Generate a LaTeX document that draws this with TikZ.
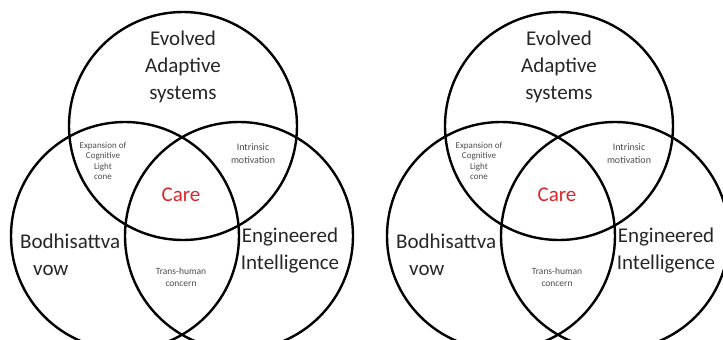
\documentclass[tikz,border=0pt]{standalone}
\usepackage{fontspec}
\setmainfont{Carlito}

\definecolor{carered}{RGB}{218,38,44}

\tikzset{
  set/.style = {draw, circle, line width=2.4pt, minimum size=228pt, inner sep=0pt},
  big/.style = {font=\fontsize{21}{27}\selectfont, text=black!85, align=center, inner sep=0pt},
  small/.style = {font=\fontsize{9}{10.5}\selectfont, text=black!70, align=center, inner sep=0pt},
}

\begin{document}
\begin{tikzpicture}[x=1pt, y=1pt]
  \useasboundingbox (0,0) rectangle (723,340);
  \clip (0,0) rectangle (723,340);
  % the same three sets, drawn twice
  \foreach \d/\dx in {l/0, r/376} {
    \begin{scope}[xshift=\dx]
      \node[set] (evo\d) at (183,214) {};
      \node[set] (bod\d) at (125,104) {};
      \node[set] (eng\d) at (239,104) {};
      \node[big] (evotext\d) at (183,273) {Evolved\\Adaptive\\systems};
      \node[big, anchor=west, align=left] (bodtext\d) at (20,85) {Bodhisattva\\\hspace*{13pt}vow};
      \node[big] (engtext\d) at (290,89) {Engineered\\Intelligence};
      \node[big, text=carered] (care\d) at (181,145) {Care};
      \node[small] (light\d) at (103,179) {Expansion of\\Cognitive\\Light\\cone};
      \node[small, font=\fontsize{10}{13}\selectfont] (motiv\d) at (253,186) {Intrinsic\\motivation};
      \node[small, font=\fontsize{9.5}{11.5}\selectfont] (trans\d) at (181,63) {Trans-human\\concern};
    \end{scope}
  }
\end{tikzpicture}
\end{document}
